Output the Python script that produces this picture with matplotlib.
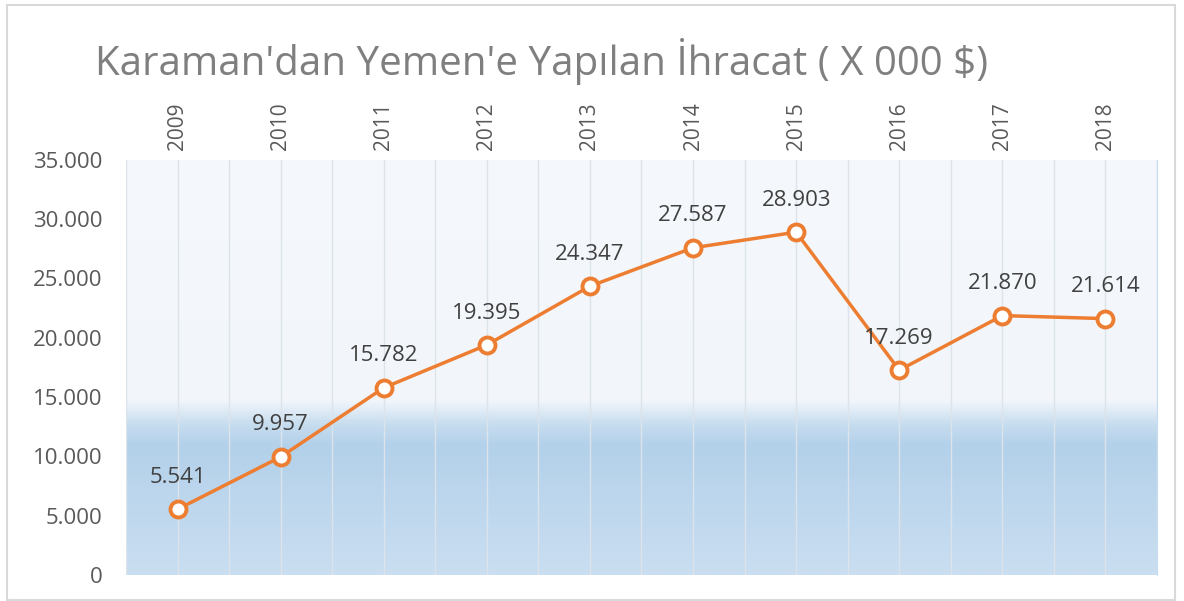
import numpy as np
import matplotlib.pyplot as plt
from matplotlib.colors import LinearSegmentedColormap

years = ['2009', '2010', '2011', '2012', '2013', '2014', '2015', '2016', '2017', '2018']
values = [5541, 9957, 15782, 19395, 24347, 27587, 28903, 17269, 21870, 21614]
labels = ['5.541', '9.957', '15.782', '19.395', '24.347', '27.587', '28.903', '17.269', '21.870', '21.614']
yticks = [0, 5000, 10000, 15000, 20000, 25000, 30000, 35000]
ytick_labels = ['0', '5.000', '10.000', '15.000', '20.000', '25.000', '30.000', '35.000']

plt.rcParams['font.family'] = ['Open Sans', 'DejaVu Sans']

fig = plt.figure(figsize=(11.84, 6.01), dpi=100)
fig.patch.set_facecolor('white')
# light grey frame round the chart
fig.add_artist(plt.Rectangle((0.006, 0.002), 0.986, 0.99, transform=fig.transFigure,
                             fill=False, edgecolor='#d9d9d9', lw=1.5))

ax = fig.add_axes([0.1064, 0.0433, 0.8708, 0.6907])
x = np.arange(len(years))

# gradient background: pale at top, blue band in the lower part
cmap = LinearSegmentedColormap.from_list('bg', [
    (0.0, '#cadef1'), (0.31, '#b3d1ea'), (0.36, '#c6dcef'), (0.42, '#f2f6fb'), (1.0, '#f5f8fc')])
grad = np.linspace(0, 1, 400).reshape(-1, 1)
ax.imshow(grad, cmap=cmap, aspect='auto', origin='lower',
          extent=[-0.5, 9.5, 0, 35000], zorder=0)

for xv in np.arange(-0.5, 9.6, 0.5):
    ax.axvline(xv, color='#dde3ea', lw=1, zorder=1)

ax.plot(x, values, color='#ed7d31', lw=2.5, marker='o', markersize=11.5,
        markerfacecolor='white', markeredgecolor='#ed7d31', markeredgewidth=2.8, zorder=3)

for xi, v, lab in zip(x, values, labels):
    ax.annotate(lab, (xi, v), xytext=(0, 23), textcoords='offset points',
                ha='center', va='center', fontsize=16, color='#404040', zorder=4)

ax.set_xlim(-0.5, 9.5)
ax.set_ylim(0, 35000)
ax.set_yticks(yticks)
ax.set_yticklabels(ytick_labels)
ax.set_xticks(x)
ax.set_xticklabels(years, rotation=90)
ax.xaxis.tick_top()
ax.tick_params(axis='x', length=0, pad=7, labelsize=15, labelcolor='#595959')
ax.tick_params(axis='y', length=0, pad=17, labelsize=16, labelcolor='#595959')
for s in ax.spines.values():
    s.set_visible(False)
ax.spines['right'].set_visible(True)
ax.spines['right'].set_color('#c5dcf0')

fig.text(0.08, 0.898, "Karaman'dan Yemen'e Yapılan İhracat ( X 000 $)",
         fontsize=29, color='#7f7f7f', ha='left', va='center')

fig.savefig('out.png', dpi=100)
